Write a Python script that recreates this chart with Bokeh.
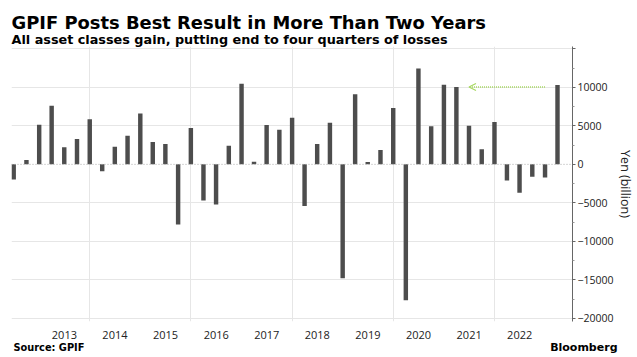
import pandas as pd
from bokeh.plotting import figure
from bokeh.models import (Range1d, FixedTicker, DatetimeTickFormatter, Span, Arrow,
                          OpenHead, Label, ColumnDataSource)
from bokeh.embed import file_html
from bokeh.resources import INLINE

# ---------------- data ----------------
quarters = pd.period_range("2012Q2", "2023Q1", freq="Q")   # quarter ends
values = [-1950, 550, 5150, 7600, 2230, 3300, 5840, -900,
          2300, 3700, 6600, 2900, 2650, -7800, 4720, -4700,
          -5200, 2400, 10450, 340, 5100, 4500, 6050, -5400,
          2650, 5400, -14800, 9100, 300, 1850, 7300, -17650,
          12450, 4950, 10350, 10050, 5000, 1950, 5500, -2100,
          -3700, -1600, -1700, 10300]
year_labels = [2013, 2014, 2015, 2016, 2017, 2018, 2019, 2020, 2021, 2022]
grid_years = [2014, 2016, 2018, 2020, 2022]
y_major = [-20000, -15000, -10000, -5000, 0, 5000, 10000, 15000]
y_minor = [-17500, -12500, -7500, -2500, 2500, 7500, 12500]

title = "GPIF Posts Best Result in More Than Two Years"
subtitle = "All asset classes gain, putting end to four quarters of losses"
source_txt = "Source: GPIF"
brand = "Bloomberg"
y_label = "Yen (billion)"

# ---------------- layout ----------------
W, H = 637, 357
FL, FR, FT, FB = 11, 572, 46, 321     # frame edges on canvas
DAY = 86400000

dates = [q.end_time.normalize() for q in quarters]
ms = [d.value // 10**6 for d in dates]
src = ColumnDataSource(dict(date=dates, value=values))

px_per_ms = (557 - 13.2) / (ms[-1] - ms[0])
x_start = ms[0] - (13.2 - FL) / px_per_ms
x_end = ms[-1] + (FR - 557) / px_per_ms

p = figure(frame_width=FR - FL, frame_height=FB - FT, output_backend="svg",
           toolbar_location=None, x_axis_type="datetime", y_axis_location="right",
           x_range=Range1d(x_start, x_end), y_range=Range1d(-20400, 15300),
           min_border_left=FL, min_border_right=W - FR,
           min_border_top=FT, min_border_bottom=H - FB)
p.outline_line_color = None
p.background_fill_color = "white"
p.border_fill_color = "white"

p.vbar(x="date", top="value", bottom=0, width=32 * DAY, source=src,
       fill_color="#4d4d4d", line_color=None)

p.ygrid.ticker = FixedTicker(ticks=[t for t in y_major if t != 0])
p.ygrid.grid_line_color = "#e6e6e6"
p.xgrid.ticker = FixedTicker(ticks=[pd.Timestamp(f"{y}-01-01").value // 10**6 for y in grid_years])
p.xgrid.grid_line_color = "#e6e6e6"
p.add_layout(Span(location=0, dimension="width", line_color="#aaaaaa",
                  line_dash="1 2", line_width=1))

xa = p.xaxis[0]
xa.ticker = FixedTicker(ticks=[pd.Timestamp(f"{y}-07-01").value // 10**6 for y in year_labels])
fmt = "%Y"
xa.formatter = DatetimeTickFormatter(years=fmt, months=fmt, days=fmt, hours=fmt, hourmin=fmt,
                                     minutes=fmt, minsec=fmt, seconds=fmt,
                                     milliseconds=fmt, microseconds=fmt)
xa.axis_line_color = None
xa.major_tick_line_color = None
xa.minor_tick_line_color = None
xa.major_label_standoff = 3
xa.major_label_text_font = "Open Sans"
xa.major_label_text_font_size = "11px"
xa.major_label_text_color = "#222222"

ya = p.yaxis[0]
ya.ticker = FixedTicker(ticks=y_major, minor_ticks=y_minor)
ya.major_label_overrides = {15000: ""}
ya.axis_line_color = "#666666"
ya.major_tick_line_color = "#666666"
ya.minor_tick_line_color = "#999999"
ya.major_tick_in = 0
ya.major_tick_out = 3
ya.minor_tick_in = 0
ya.minor_tick_out = 2
ya.major_label_standoff = 2
ya.major_label_text_font = "Open Sans"
ya.major_label_text_font_size = "10.5px"
ya.major_label_text_color = "#222222"
ya.axis_label = y_label
ya.axis_label_text_font = "Open Sans"
ya.axis_label_text_font_size = "12.5px"
ya.axis_label_text_font_style = "normal"
ya.axis_label_text_color = "#222222"
ya.axis_label_standoff = 0

p.add_layout(Arrow(end=OpenHead(size=7, line_color="#a6d85f", line_width=1.2),
                   x_start=ms[42], y_start=values[35], x_end=ms[36], y_end=values[35],
                   line_color="#a6d85f", line_width=1.5, line_dash="1 1"))


def lab(txt, x, y, size, side, align="left", style="bold", font="DejaVu Sans", color="#000000"):
    p.add_layout(Label(x=x, y=y, x_units="canvas", y_units="canvas", text=txt,
                       text_font=font, text_font_size=size, text_font_style=style,
                       text_color=color, text_align=align, text_baseline="alphabetic"), side)


lab(title, 11, 21.7, "17.9px", "above")
lab(subtitle, 11, 39, "12.8px", "above")
lab(source_txt, 13, 347, "9.8px", "below")
lab(brand, 617, 346.7, "11px", "below", align="right")

open("out.html", "w").write(file_html(p, INLINE))
